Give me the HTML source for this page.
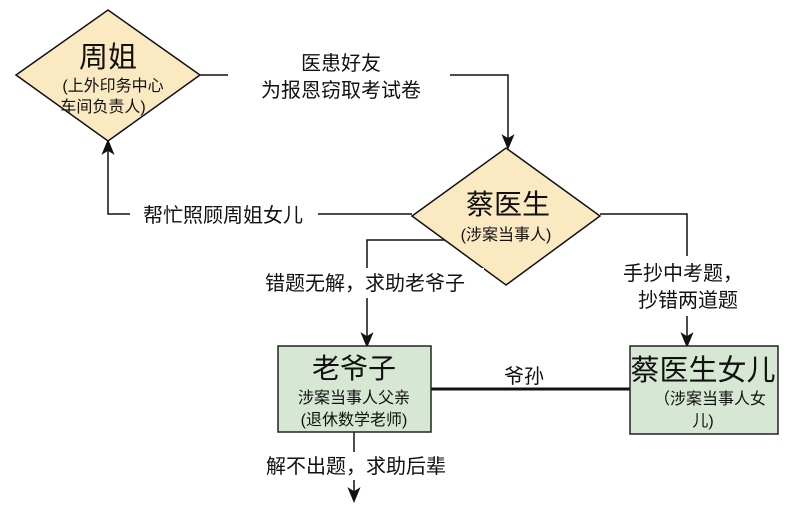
<!DOCTYPE html>
<html><head><meta charset="utf-8"><style>
body{margin:0;background:#fff}
svg text{font-family:"Liberation Sans","Noto Sans CJK SC",sans-serif;fill:#111}
</style></head><body>
<svg width="792" height="506" xmlns="http://www.w3.org/2000/svg">
<g stroke="#111" stroke-width="1.5" fill="none">
<polyline points="200,75 508,75 508,140"/>
<polygon points="503,136 508,148 513,136 508,139" fill="#111"/>
<polyline points="412,214 108,214 108,150"/>
<polygon points="103,153 108,141 113,153 108,150" fill="#111"/>
<polyline points="460,240 367,240 367,338"/>
<polygon points="362,334 367,346 372,334 367,337" fill="#111"/>
<polyline points="600,214 687,214 687,338"/>
<polygon points="682,334 687,346 692,334 687,337" fill="#111"/>
<line x1="354" y1="432" x2="354" y2="494"/>
<polygon points="349,489 354,501 359,489 354,492" fill="#111"/>
<line x1="431" y1="389" x2="630" y2="389" stroke-width="3"/>
</g>
<polygon points="108,10 200,75 108,141 16,75" fill="#fbe9c2" stroke="#111" stroke-width="1.5"/>
<polygon points="506,148 600,216 506,285 412,216" fill="#fbe9c2" stroke="#111" stroke-width="1.5"/>
<rect x="278" y="346" width="153" height="86" fill="#d6e8d4" stroke="#222" stroke-width="1.5"/>
<rect x="630" y="346" width="148" height="88" fill="#d6e8d4" stroke="#222" stroke-width="1.5"/>
<g text-anchor="middle">
<text x="108" y="67" font-size="29">周姐</text>
<text x="113" y="91" font-size="16">(上外印务中心</text>
<text x="103" y="112" font-size="16">车间负责人)</text>
<rect x="228" y="48" width="222" height="56" fill="#fff"/>
<text x="341" y="70" font-size="20">医患好友</text>
<text x="341" y="97" font-size="20">为报恩窃取考试卷</text>
<rect x="130" y="200" width="188" height="28" fill="#fff"/>
<text x="223" y="222" font-size="20">帮忙照顾周姐女儿</text>
<text x="508" y="214" font-size="28">蔡医生</text>
<text x="506" y="240" font-size="16">(涉案当事人)</text>
<rect x="248" y="268" width="236" height="30" fill="#fff"/>
<text x="365" y="290" font-size="20">错题无解，求助老爷子</text>
<rect x="608" y="256" width="158" height="60" fill="#fff"/>
<text x="683" y="280" font-size="20">手抄中考题，</text>
<text x="688" y="307" font-size="20">抄错两道题</text>
<text x="354" y="378" font-size="28">老爷子</text>
<text x="354" y="403" font-size="16">涉案当事人父亲</text>
<text x="354" y="425" font-size="16">(退休数学老师)</text>
<text x="524" y="383" font-size="20">爷孙</text>
<text x="703" y="380" font-size="29">蔡医生女儿</text>
<text x="710" y="404" font-size="16">（涉案当事人女</text>
<text x="703" y="426" font-size="16">儿)</text>
<rect x="252" y="452" width="206" height="28" fill="#fff"/>
<text x="356" y="473" font-size="20">解不出题，求助后辈</text>
</g>
</svg>
</body></html>
